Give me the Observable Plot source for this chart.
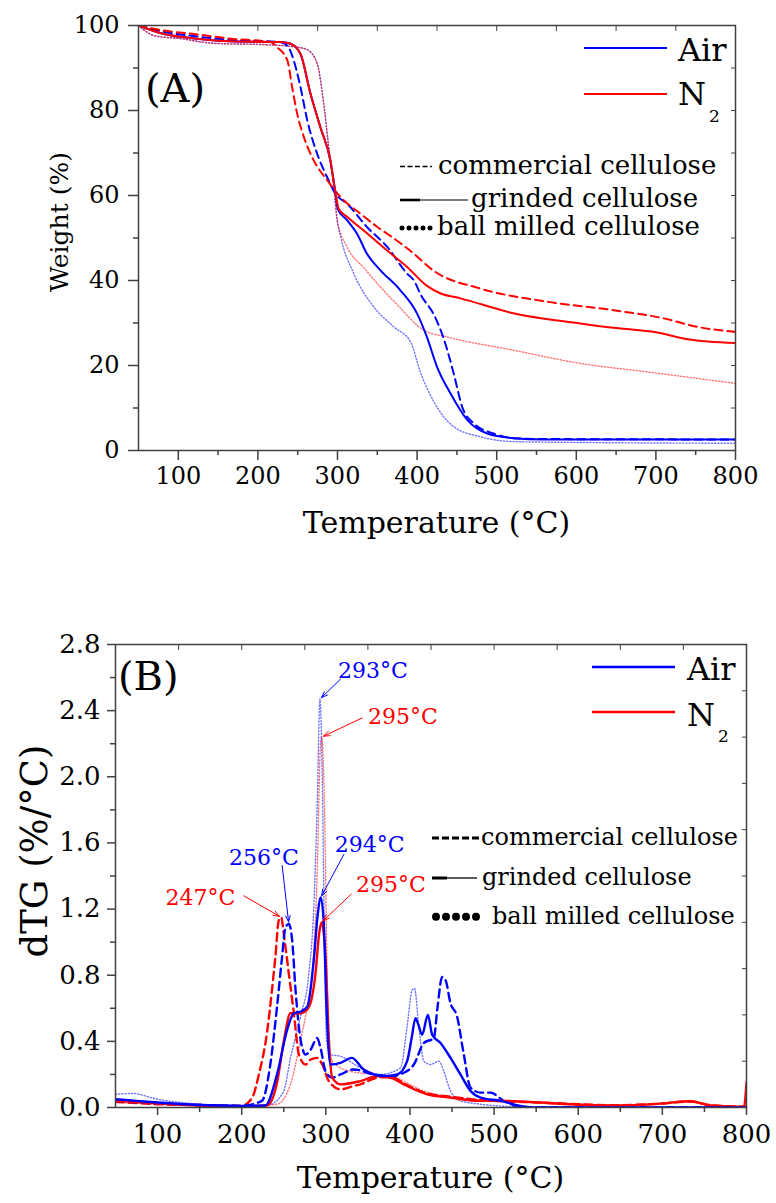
<!DOCTYPE html>
<html>
<head>
<meta charset="utf-8">
<script src="https://cdn.jsdelivr.net/npm/d3@7"></script>
<script src="https://cdn.jsdelivr.net/npm/@observablehq/plot@0.6"></script>
<style>
  body { margin: 0; background: #fff; }
  #chart { width: 776px; }
  #chart svg { display: block; }
  #chart svg text { font-family: "DejaVu Serif", serif; }
</style>
</head>
<body>
<div id="chart"></div>
<script>
// ---------- TGA: weight (%) vs temperature (°C) ----------
const tgaAirCommercial = [[50,100],[82,98.5],[124,97.4],[166,96.6],[228,96.1],[238,95],[245,91.8],[253.5,85.5],[262,77.7],[274.5,69.8],[287,64.3],[297.5,60.4],[312,58.1],[337,52.6],[362.5,47.9],[387.5,41.6],[396,40],[405,36.5],[421,32],[434,26],[446,18.1],[456.6,10.3],[471,6.4],[496,4.0],[521,2.9],[560,2.7],[800,2.6]];
const tgaAirGrinded = [[50,100],[82,98],[124,96.9],[166,96.3],[228,96.1],[241,95.7],[253.5,93.3],[266,84],[278.6,76],[291,68.3],[297.5,60.5],[300.3,56.8],[312,54.2],[324.6,51],[337,46.3],[354,42.4],[379,37.7],[400,32.2],[412.7,26.5],[425,19.7],[442,13.4],[463,7.2],[488,4.0],[521,2.9],[560,2.6],[650,2.6],[800,2.6]];
const tgaAirBallMilled = [[50,100],[70,97.6],[103,96.9],[145,95.8],[208,95.5],[249,94.9],[262,94.3],[274.5,91],[282.7,81.6],[289,71.4],[295.4,62],[299.6,54.2],[304,50.2],[320.5,41.6],[345.5,33.8],[370.7,29.1],[392,25.5],[404,18.5],[421,11.5],[446,5.6],[480,3.2],[521,2.1],[600,1.9],[800,1.7]];
const tgaN2Commercial = [[50,100],[82,98.8],[124,97.9],[166,96.9],[216,96.1],[224,94.9],[237,91.8],[243,85.5],[249.4,79.2],[257.7,73.8],[270,68.3],[287,63.6],[304,59.6],[329,55.7],[350,52.6],[362.5,51],[396,46.3],[420,42.4],[479.6,38.1],[563.4,35],[647,33],[709.5,31.1],[752,29.1],[800,27.9]];
const tgaN2Grinded = [[50,100],[82,98],[124,96.9],[166,96.3],[228,96.1],[241,95.7],[253.5,93.3],[266,84],[278.6,76],[291,68.3],[297.5,60.5],[301.6,56.8],[312,55],[337,51.1],[362,47.1],[387.5,43.2],[412,38.8],[429,37],[454.5,35.8],[521,32.3],[605,29.9],[650,28.8],[700,27.8],[740,26.2],[800,25.3]];
const tgaN2BallMilled = [[50,100],[70,97.6],[103,96.9],[145,95.8],[208,95.5],[249,94.9],[262,94.3],[274.5,91],[282.7,81.6],[289,71.4],[295.4,62],[299.6,54.2],[312,47.9],[333,43],[375,34.3],[408.5,28.3],[438,26.7],[521,23.6],[605,20.5],[689,18.5],[800,15.8]];

// ---------- DTG: dTG (%/°C) vs temperature (°C) ----------
const dtgAirCommercial = [[50,0.04],[100,0.025],[150,0.015],[200,0.01],[224,0.04],[234,0.26],[242,0.61],[248,0.91],[252,1.09],[256,1.11],[260,1.01],[264,0.71],[270,0.41],[276,0.32],[282,0.35],[289.7,0.42],[293.7,0.36],[299.6,0.22],[307.6,0.18],[317.4,0.20],[333,0.23],[357,0.20],[377,0.19],[392.7,0.21],[404.6,0.26],[416.5,0.39],[428.4,0.42],[432.4,0.59],[438.3,0.79],[442.3,0.77],[448.2,0.63],[456,0.55],[464,0.32],[472,0.12],[483.8,0.09],[495.7,0.09],[511.5,0.04],[531,0.005],[550,0],[800,0]];
const dtgAirGrinded = [[50,0.05],[75,0.04],[100,0.03],[150,0.015],[200,0.01],[228,0.012],[242,0.2],[254,0.47],[262,0.57],[270,0.58],[278,0.61],[286,0.91],[290,1.15],[294,1.27],[297.6,1.11],[300.8,0.61],[305.5,0.26],[317.5,0.27],[331,0.30],[345,0.23],[369,0.19],[385,0.20],[396.6,0.28],[402,0.42],[406.6,0.54],[410,0.5],[414.5,0.44],[421.3,0.56],[426.4,0.44],[436.3,0.39],[448.2,0.30],[460,0.20],[472,0.10],[484,0.06],[507.6,0.04],[531,0.01],[550,0],[800,0]];
const dtgAirBallMilled = [[50,0.08],[70,0.085],[100,0.05],[150,0.02],[200,0.01],[234,0.02],[250,0.10],[258,0.30],[270,0.55],[279.8,0.81],[285.7,1.21],[289.7,1.82],[293,2.47],[295.7,2.02],[298.4,1.01],[300.8,0.41],[305.5,0.32],[317.4,0.31],[341,0.24],[365,0.20],[388.8,0.24],[396.6,0.49],[402.6,0.71],[405.4,0.72],[410.5,0.49],[416.5,0.28],[424.4,0.26],[434.3,0.28],[440.2,0.22],[448.2,0.10],[460,0.04],[483.8,0.02],[520,0.005],[550,0],[800,0]];
const dtgN2Commercial = [[50,0.035],[100,0.02],[150,0.015],[200,0.01],[212.5,0.06],[220.4,0.2],[230,0.45],[236,0.71],[240,0.91],[244,1.13],[247,1.15],[250,1.05],[256,0.81],[262,0.57],[268,0.32],[276,0.26],[282,0.29],[289.7,0.30],[295.7,0.26],[303.5,0.16],[317.4,0.11],[333,0.13],[341,0.14],[361,0.18],[377,0.185],[396.6,0.135],[420,0.085],[448,0.065],[484,0.045],[555,0.03],[646,0.014],[694,0.022],[733.5,0.036],[757,0.014],[800,0.005]];
const dtgN2Grinded = [[50,0.04],[100,0.025],[150,0.012],[200,0.008],[230,0.012],[242,0.15],[250,0.4],[258,0.57],[270,0.57],[279,0.6],[287.7,0.81],[292,1.05],[295,1.12],[299.6,0.91],[303.6,0.41],[307.6,0.18],[317.4,0.14],[341,0.16],[361,0.19],[377,0.18],[396.6,0.13],[420.4,0.08],[448,0.06],[484,0.04],[507.6,0.04],[555,0.03],[567,0.026],[646,0.012],[694,0.022],[733.5,0.038],[757,0.012],[797,0.003],[800,0.15]];
const dtgN2BallMilled = [[50,0.03],[100,0.02],[150,0.01],[200,0.005],[242,0.02],[258,0.14],[270,0.41],[278,0.61],[283.8,0.81],[289.7,1.41],[293.7,2.20],[295,2.24],[298.4,1.82],[301.6,0.81],[305.5,0.30],[317,0.24],[329,0.22],[357,0.20],[377,0.19],[416.5,0.10],[448,0.065],[472,0.05],[555,0.03],[646,0.012],[694,0.02],[733.5,0.035],[757,0.012],[800,0.004]];

// Peak temperatures marked in the DTG panel
const peakTemps = [293, 295, 256, 247, 294, 295];
const peakCurves = [dtgAirBallMilled, dtgN2BallMilled, dtgAirCommercial, dtgN2Commercial, dtgAirGrinded, dtgN2Grinded];

// ---------- axis ticks ----------
const tempTicks = [100, 200, 300, 400, 500, 600, 700, 800];
const tempMinor = [150, 250, 350, 450, 550, 650, 750];
const tempTop = [125, 200, 275, 350, 425, 500, 575, 650, 725];
const weightTicks = [0, 20, 40, 60, 80, 100];
const weightMinor = [10, 30, 50, 70, 90];
const weightRight = [10, 20, 30, 40, 50, 60, 70, 80, 90];
const dtgTicks = [0, 0.4, 0.8, 1.2, 1.6, 2.0, 2.4, 2.8];
const dtgMinor = [0.2, 0.6, 1.0, 1.4, 1.8, 2.2, 2.6];
const dtgRight = [0.28, 0.56, 0.84, 1.12, 1.4, 1.68, 1.96, 2.24, 2.52];

// ---------- styling ----------
const FONT = "DejaVu Serif, serif";
const BLUE = "#0000ff", RED = "#ff0000", AXIS = "#404040";
const W = 776;
const SVG_STYLE = "font-family: 'DejaVu Serif', serif; color: #000; background: #fff; overflow: visible;";

function curve(data, color, kind, width) {
  const base = {x: d => d[0], y: d => d[1], stroke: color, curve: "monotone-x", clip: true};
  if (kind === "commercial") return Plot.line(data, {...base, strokeWidth: width, strokeDasharray: "8,5"});
  if (kind === "ball") return Plot.line(data, {...base, strokeWidth: 1.4, strokeDasharray: "1.2,2", strokeOpacity: 0.55});
  return Plot.line(data, {...base, strokeWidth: width});
}

function axes(opt) {
  const common = {stroke: AXIS, label: null, fontFamily: FONT};
  return [
    Plot.frame({stroke: AXIS, strokeWidth: 1.5}),
    Plot.axisX({...common, ticks: tempTicks, tickSize: opt.tick, tickPadding: opt.xPad, fontSize: opt.font, strokeWidth: 1.5, tickFormat: d => String(d)}),
    Plot.axisX({...common, ticks: tempMinor, tickSize: opt.minor, strokeWidth: 1.5, tickFormat: () => ""}),
    Plot.axisX({...common, anchor: "top", ticks: tempTop, tickSize: -5, tickFormat: () => ""}),
    Plot.axisY({...common, ticks: opt.yTicks, tickSize: opt.tick, tickPadding: opt.yPad, fontSize: opt.font, strokeWidth: 1.5, tickFormat: opt.yFormat}),
    Plot.axisY({...common, ticks: opt.yMinor, tickSize: opt.minor, strokeWidth: 1.5, tickFormat: () => ""}),
    Plot.axisY({...common, anchor: "right", ticks: opt.yRight, tickSize: -5, tickFormat: () => ""})
  ];
}

function txt(svg, x, y, s, size, attrs = {}) {
  const t = svg.append("text").attr("font-family", FONT)
    .attr("font-size", size).attr("fill", attrs.fill || "#000")
    .attr("text-anchor", attrs.anchor || "start").text(s);
  if (attrs.transform) t.attr("transform", attrs.transform);
  else t.attr("x", x).attr("y", y);
  return t;
}
function seg(svg, x1, x2, y, color, width, dash, cap) {
  const l = svg.append("line").attr("x1", x1).attr("x2", x2).attr("y1", y).attr("y2", y)
    .attr("stroke", color).attr("stroke-width", width);
  if (dash) l.attr("stroke-dasharray", dash);
  if (cap) l.attr("stroke-linecap", cap);
}

// ---------- Panel A: TGA ----------
const tga = Plot.plot({
  width: W, height: 560,
  marginLeft: 138, marginRight: 41, marginTop: 25, marginBottom: 110,
  style: SVG_STYLE,
  x: {domain: [50, 800], label: null},
  y: {domain: [0, 100], label: null},
  marks: [
    curve(tgaAirBallMilled, BLUE, "ball"),
    curve(tgaN2BallMilled, RED, "ball"),
    curve(tgaAirCommercial, BLUE, "commercial", 2),
    curve(tgaN2Commercial, RED, "commercial", 2),
    curve(tgaAirGrinded, BLUE, "grinded", 2),
    curve(tgaN2Grinded, RED, "grinded", 2),
    ...axes({tick: 10, minor: 5, xPad: 6, yPad: 9, font: 24, yTicks: weightTicks, yMinor: weightMinor, yRight: weightRight, yFormat: d => String(d)})
  ]
});

{
  const svg = d3.select(tga);
  txt(svg, 145, 102, "(A)", 40);
  seg(svg, 584, 667, 48, BLUE, 2);
  txt(svg, 678, 61, "Air", 32);
  seg(svg, 584, 667, 94, RED, 2);
  txt(svg, 678, 105, "N", 32);
  txt(svg, 709, 122, "2", 17);
  seg(svg, 400, 432, 166.5, "#000", 1.3, "5,2.5");
  txt(svg, 438, 174, "commercial cellulose", 26);
  seg(svg, 400, 420, 200, "#000", 2.6);
  seg(svg, 418, 468, 200, "#000", 1.2);
  txt(svg, 471, 207, "grinded cellulose", 26);
  seg(svg, 402, 434, 228, "#000", 5, "0,7", "round");
  txt(svg, 437, 235, "ball milled cellulose", 26);
  txt(svg, 436.5, 533, "Temperature (°C)", 30, {anchor: "middle"});
  txt(svg, 0, 0, "Weight (%)", 25, {anchor: "middle", transform: "translate(68,222) rotate(-90)"});
}

// ---------- Panel B: DTG ----------
const peaks = peakTemps.map((t, i) => ({
  t, v: peakCurves[i].find(d => d[0] === t)[1], label: `${t}°C`
}));
// label and arrow-tail placement for each peak (temperature, dTG)
const peakLayout = [
  {color: BLUE, tx: 356, ty: 2.64, ax: 317.4, ay: 2.59},
  {color: RED, tx: 391.5, ty: 2.36, ax: 343.2, ay: 2.356},
  {color: BLUE, tx: 226.3, ty: 1.51, ax: 248.1, ay: 1.463},
  {color: RED, tx: 151, ty: 1.27, ax: 202.5, ay: 1.28},
  {color: BLUE, tx: 352, ty: 1.585, ax: 321.4, ay: 1.53},
  {color: RED, tx: 377.3, ty: 1.345, ax: 330.2, ay: 1.29}
];
const notes = peaks.map((p, i) => ({...p, ...peakLayout[i]}));

const dtg = Plot.plot({
  width: W, height: 643,
  marginLeft: 115, marginRight: 30, marginTop: 84, marginBottom: 96,
  style: SVG_STYLE,
  x: {domain: [50, 800], label: null},
  y: {domain: [0, 2.8], label: null},
  marks: [
    curve(dtgN2BallMilled, RED, "ball"),
    curve(dtgAirBallMilled, BLUE, "ball"),
    curve(dtgN2Commercial, RED, "commercial", 2.4),
    curve(dtgAirCommercial, BLUE, "commercial", 2.4),
    curve(dtgN2Grinded, RED, "grinded", 2.4),
    curve(dtgAirGrinded, BLUE, "grinded", 2.4),
    ...axes({tick: 8, minor: 5, xPad: 9, yPad: 7, font: 26, yTicks: dtgTicks, yMinor: dtgMinor, yRight: dtgRight, yFormat: d3.format(".1f")}),
    Plot.arrow(notes, {x1: "ax", y1: "ay", x2: "t", y2: "v", stroke: "color", strokeWidth: 1, headLength: 10, headAngle: 40, insetEnd: 2}),
    Plot.text(notes, {x: "tx", y: "ty", text: "label", fill: "color", fontSize: 22, fontFamily: FONT, textAnchor: "middle", lineAnchor: "middle"})
  ]
});

{
  const svg = d3.select(dtg);
  txt(svg, 118, 130, "(B)", 40);
  seg(svg, 592, 675, 107, BLUE, 2.4);
  txt(svg, 687, 120, "Air", 32);
  seg(svg, 592, 675, 152, RED, 2.4);
  txt(svg, 687, 166, "N", 32);
  txt(svg, 718, 182, "2", 17);
  seg(svg, 432, 480, 278, "#000", 3, "7,3");
  txt(svg, 481, 285, "commercial cellulose", 24);
  seg(svg, 432, 447, 318, "#000", 3);
  seg(svg, 445, 477, 318, "#000", 1.3);
  txt(svg, 482, 325, "grinded cellulose", 24);
  seg(svg, 436, 478, 356.7, "#000", 8, "0,10", "round");
  txt(svg, 492, 364, "ball milled cellulose", 24);
  txt(svg, 430.5, 628, "Temperature (°C)", 30, {anchor: "middle"});
  txt(svg, 0, 0, "dTG (%/°C)", 37, {anchor: "middle", transform: "translate(47,291) rotate(-90)"});
}

document.getElementById("chart").append(tga, dtg);
</script>
</body>
</html>
